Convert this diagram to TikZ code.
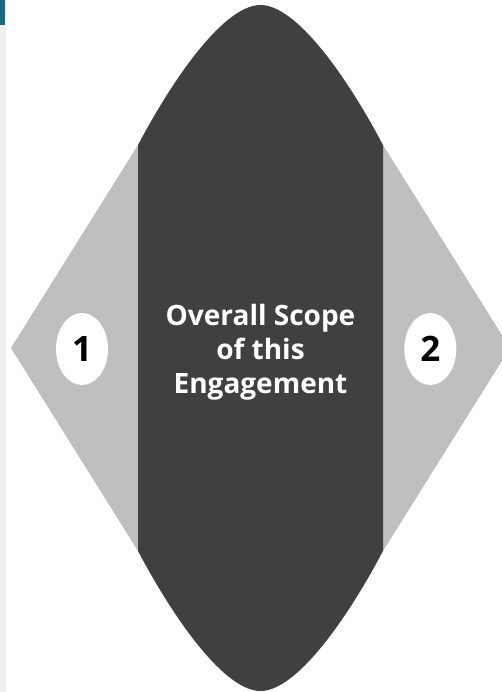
\documentclass[tikz,border=0pt]{standalone}
\usepackage{fontspec}
\setmainfont{Open Sans}
\usepackage{xcolor}
\usetikzlibrary{calc, positioning, shapes}

\definecolor{sidebar}{HTML}{F0F0F0}
\definecolor{tealbar}{HTML}{156F84}
\definecolor{wingray}{HTML}{BFBFBF}
\definecolor{lensdark}{HTML}{404040}

\begin{document}
\begin{tikzpicture}[x=1pt, y=-1pt, font=\bfseries]
\tikzstyle{badge} = [fill=white, ellipse, inner sep=0, minimum width=52, minimum height=72, font=\fontsize{35}{40}\selectfont\bfseries]
\tikzstyle{scope} = [text=white, align=center, inner sep=0, font=\fontsize{28}{34}\selectfont\bfseries]

\useasboundingbox (0, 0) rectangle (502, 692);
\clip (0, 0) rectangle (502, 692);

% page edge
\fill[sidebar] (0, 0) rectangle (6, 692);
\fill[tealbar] (0, 0) rectangle (5.3, 25);

% side wings
\fill[wingray] (11, 348) -- (138, 145) -- (138, 551) -- cycle;
\fill[wingray] (510, 348) -- (383, 145) -- (383, 551) -- cycle;

% middle lens
\fill[lensdark] (138, 145) .. controls (175, 75) and (225, 5) .. (260.5, 5)
	.. controls (296, 5) and (346, 75) .. (383, 145) -- (383, 551)
	.. controls (346, 621) and (296, 691) .. (260.5, 691)
	.. controls (225, 691) and (175, 621) .. (138, 551) -- cycle;

\node[badge]	at (82, 349)		(b1)	{1};
\node[badge]	at (430.3, 349)		(b2)	{2};
\node[scope]	at (260.5, 352)		(core)	{Overall Scope\\of this\\Engagement};
\end{tikzpicture}
\end{document}
